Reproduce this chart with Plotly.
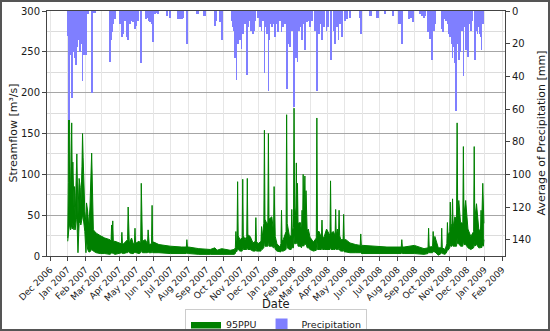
import plotly.graph_objects as go
import pandas as pd

# ---------------- data ----------------
series_start = "2007-01-01"

# 95PPU band: day index since 2007-01-01, upper and lower bounds [m3/s]
ppu_day = [0, 1, 2, 3, 4, 5, 7, 8, 9, 11,
           12, 13, 15, 16, 18, 20, 22, 23, 25, 26,
           27, 29, 30, 32, 33, 35, 37, 39, 42, 45,
           50, 57, 65, 74, 76, 77, 78, 79, 80, 83,
           90, 94, 95, 96, 98, 103, 105, 106, 107, 108,
           112, 115, 117, 118, 119, 120, 125, 128, 129, 130,
           131, 136, 140, 141, 142, 143, 147, 148, 149, 151,
           160, 180, 200, 208, 209, 210, 212, 230, 250, 258,
           262, 270, 285, 292, 294, 295, 296, 297, 298, 299,
           302, 306, 307, 308, 311, 314, 315, 316, 320, 325,
           329, 330, 331, 334, 339, 340, 341, 344, 345, 346,
           349, 351, 352, 353, 358, 361, 362, 363, 364, 367,
           372, 374, 375, 376, 378, 383, 384, 385, 389, 392,
           393, 394, 396, 397, 398, 400, 401, 402, 403, 404,
           408, 410, 411, 412, 413, 414, 416, 417, 418, 420,
           422, 425, 431, 436, 437, 438, 441, 445, 446, 447,
           450, 454, 460, 461, 462, 466, 469, 470, 471, 473,
           475, 476, 477, 479, 483, 484, 485, 488, 495, 505,
           513, 514, 515, 518, 540, 560, 585, 586, 587, 590,
           608, 625, 632, 633, 634, 637, 640, 641, 642, 644,
           650, 655, 656, 657, 662, 665, 666, 667, 670, 671,
           672, 674, 675, 676, 679, 682, 683, 684, 686, 689,
           693, 694, 695, 698, 702, 707, 712, 713, 714, 717,
           721, 724, 725, 726, 728, 729, 730]
ppu_upper = [22, 90, 248, 140, 110, 70, 163, 90, 115, 60,
             85, 45, 100, 125, 50, 95, 84, 60, 110, 150,
             121, 65, 55, 40, 65, 55, 35, 60, 126, 32,
             28, 25, 22, 20, 18, 38, 20, 43, 18, 18,
             16, 15, 29, 15, 15, 18, 20, 60, 18, 16,
             22, 15, 16, 34, 16, 16, 18, 16, 89, 18,
             18, 20, 15, 32, 14, 14, 15, 62, 17, 17,
             14, 12, 11, 11, 20, 11, 11, 9, 8, 10,
             7, 9, 7, 8, 10, 30, 15, 20, 91, 25,
             20, 22, 94, 25, 20, 24, 95, 26, 24, 16,
             18, 47, 18, 15, 18, 36, 22, 40, 154, 45,
             40, 40, 150, 45, 48, 30, 85, 30, 24, 15,
             11, 15, 56, 18, 20, 30, 173, 40, 24, 25,
             57, 30, 35, 181, 60, 50, 114, 50, 89, 40,
             41, 30, 56, 35, 100, 45, 98, 50, 80, 30,
             33, 23, 17, 22, 169, 30, 30, 22, 44, 22,
             24, 33, 25, 92, 28, 30, 25, 57, 25, 33,
             25, 56, 25, 20, 20, 51, 20, 20, 16, 14,
             13, 27, 13, 13, 12, 11, 11, 20, 11, 11,
             13, 9, 10, 34, 12, 11, 12, 30, 14, 24,
             10, 10, 34, 10, 8, 15, 41, 25, 30, 66,
             35, 40, 70, 35, 48, 45, 163, 55, 68, 41,
             40, 134, 50, 68, 33, 24, 30, 134, 45, 64,
             33, 30, 56, 35, 89, 45, 40]
ppu_lower = [18, 25, 35, 40, 35, 32, 38, 33, 40, 32,
             40, 32, 45, 48, 4, 40, 42, 38, 45, 50,
             48, 35, 30, 4, 20, 8, 5, 5, 8, 6,
             4, 3, 3, 2, 3, 5, 3, 5, 3, 2,
             3, 3, 4, 3, 3, 4, 4, 6, 4, 4,
             3, 3, 4, 5, 4, 4, 3, 4, 7, 4,
             4, 4, 4, 5, 4, 4, 4, 6, 4, 4,
             4, 3, 3, 3, 4, 3, 3, 2, 2, 2,
             2, 2, 2, 2, 3, 6, 5, 6, 10, 8,
             6, 6, 12, 8, 8, 8, 12, 8, 8, 6,
             6, 10, 6, 6, 6, 10, 8, 10, 20, 12,
             12, 12, 20, 12, 12, 10, 14, 10, 8, 6,
             5, 5, 8, 6, 6, 8, 20, 10, 8, 8,
             12, 10, 10, 25, 15, 15, 20, 15, 18, 12,
             12, 10, 14, 12, 16, 12, 16, 14, 15, 10,
             10, 8, 6, 7, 20, 8, 8, 8, 10, 8,
             8, 8, 8, 12, 8, 8, 8, 10, 8, 8,
             8, 10, 7, 6, 6, 8, 5, 5, 4, 4,
             4, 5, 3, 3, 3, 3, 3, 4, 3, 3,
             3, 2, 3, 6, 4, 4, 4, 6, 5, 5,
             1, 3, 6, 3, 2, 5, 8, 7, 10, 14,
             12, 12, 15, 12, 12, 12, 22, 15, 15, 12,
             12, 20, 14, 14, 10, 8, 10, 18, 12, 14,
             10, 10, 12, 10, 15, 12, 20]

# Precipitation: day index since 2007-01-01 and depth [mm]
precip_day = [0, 1, 2, 3, 4, 5, 7, 8, 9, 11,
              13, 15, 16, 18, 19, 20, 22, 23, 25, 26,
              27, 29, 30, 32, 34, 36, 42, 45, 48, 74,
              76, 78, 80, 83, 92, 95, 97, 98, 101, 104,
              106, 109, 112, 115, 118, 120, 123, 129, 137, 141,
              143, 144, 147, 149, 153, 156, 159, 174, 180, 194,
              197, 200, 203, 209, 226, 229, 238, 241, 258, 261,
              267, 270, 288, 290, 291, 293, 296, 298, 299, 300,
              302, 305, 307, 308, 311, 314, 317, 320, 322, 325,
              327, 329, 334, 337, 338, 340, 342, 345, 347, 349,
              352, 354, 356, 358, 361, 364, 365, 367, 369, 372,
              375, 378, 381, 384, 387, 390, 393, 397, 401, 403,
              406, 408, 411, 413, 416, 420, 422, 425, 428, 434,
              437, 439, 441, 443, 446, 450, 454, 457, 462, 466,
              469, 472, 475, 478, 481, 487, 490, 495, 513, 514,
              530, 533, 542, 545, 557, 571, 580, 583, 586, 587,
              599, 602, 606, 618, 621, 625, 627, 631, 633, 635,
              639, 641, 642, 644, 656, 658, 662, 664, 666, 668,
              670, 671, 673, 675, 677, 679, 681, 684, 686, 688,
              689, 692, 694, 696, 698, 700, 702, 703, 706, 708,
              710, 714, 717, 719, 721, 723, 725, 726, 728]
precip_mm = [15, 12, 67, 16, 14, 27, 20, 53, 25, 20,
             29, 33, 22, 10, 14, 18, 25, 16, 20, 43,
             18, 27, 25, 27, 2, 2, 50, 1, 1, 31,
             18, 13, 8, 5, 8, 16, 6, 14, 6, 16,
             18, 8, 6, 7, 11, 9, 6, 32, 5, 4,
             6, 7, 8, 19, 2, 1, 2, 3, 4, 5,
             5, 5, 4, 20, 2, 2, 3, 3, 9, 6,
             7, 18, 6, 10, 12, 29, 42, 15, 20, 10,
             18, 23, 12, 14, 8, 39, 10, 6, 12, 14,
             12, 6, 4, 10, 8, 12, 6, 38, 10, 14,
             49, 18, 8, 10, 8, 16, 6, 8, 13, 6,
             13, 10, 8, 48, 20, 22, 12, 59, 29, 31,
             12, 10, 18, 8, 24, 7, 6, 10, 6, 12,
             49, 12, 14, 8, 18, 10, 12, 10, 30, 12,
             20, 10, 18, 8, 16, 6, 5, 4, 4, 14,
             3, 3, 4, 4, 2, 3, 8, 8, 20, 12,
             5, 4, 7, 2, 3, 4, 3, 13, 13, 17,
             30, 6, 12, 8, 11, 13, 5, 6, 8, 14,
             10, 16, 20, 29, 22, 32, 61, 20, 30, 14,
             25, 12, 40, 10, 24, 16, 28, 12, 8, 12,
             6, 30, 12, 14, 10, 14, 16, 24, 8]

# ---------------- figure ----------------
t0 = pd.Timestamp(series_start)
ppu_dates = t0 + pd.to_timedelta(ppu_day, unit="D")
precip_dates = t0 + pd.to_timedelta(precip_day, unit="D")

GREEN = "#008000"
FONT = "DejaVu Sans"
TXT = "#1a1a1a"

fig = go.Figure()
fig.add_trace(go.Scatter(x=ppu_dates, y=ppu_lower, mode="lines",
                         line=dict(color=GREEN, width=1), showlegend=False,
                         hoverinfo="skip"))
fig.add_trace(go.Scatter(x=ppu_dates, y=ppu_upper, mode="lines",
                         fill="tonexty", fillcolor=GREEN,
                         line=dict(color=GREEN, width=1), name="95PPU",
                         legendrank=1))
fig.add_trace(go.Bar(x=precip_dates, y=precip_mm, yaxis="y2",
                     width=1.3 * 86400000,
                     marker=dict(color="#7f7fff", line=dict(width=0)),
                     name="Precipitation", legendrank=2))

# the figure sits 2 px inside the page, framed by the page background
FRAME = 2
PAGE_W, PAGE_H = 550, 331
W, H = PAGE_W - 2 * FRAME, PAGE_H - 2 * FRAME
# plot area in page pixels: left 47, right 505, top 11, bottom 256
ml, mt = 47 - FRAME, 11 - FRAME
mr, mb = PAGE_W - 505 - FRAME, PAGE_H - 256 - FRAME
pw, ph = W - ml - mr, H - mt - mb


def px_x(p):  # page pixel -> paper x
    return (p - FRAME - ml) / pw


def px_y(p):  # page pixel -> paper y
    return (H - mb - (p - FRAME)) / ph


fig.update_layout(
    width=W, height=H,
    margin=dict(l=ml, r=mr, t=mt, b=mb, autoexpand=False),
    paper_bgcolor="white", plot_bgcolor="white",
    font=dict(family=FONT, size=10, color=TXT),
    bargap=0,
    xaxis=dict(type="date", range=["2006-11-25 16:00", "2009-02-06"],
               tick0="2006-12-01", dtick="M1", tickformat="%b %Y",
               tickangle=-45, tickfont=dict(size=9), automargin=False,
               showgrid=True, gridcolor="#e6e6e6", gridwidth=1,
               ticks="outside", ticklen=4, tickcolor="#444",
               showline=True, mirror=True, linecolor="#444", linewidth=1,
               zeroline=False),
    yaxis=dict(range=[0, 300], tick0=0, dtick=50, tickfont=dict(size=10),
               automargin=False,
               showgrid=True, gridcolor="#a6a6a6", gridwidth=1,
               minor=dict(dtick=25, showgrid=True, gridcolor="#dcdcdc", ticks=""),
               ticks="outside", ticklen=4, tickcolor="#444",
               showline=True, mirror=True, linecolor="#444", linewidth=1,
               zeroline=False),
    yaxis2=dict(overlaying="y", side="right", range=[150, 0], tick0=0, dtick=20,
                tickfont=dict(size=10), showgrid=False, automargin=False,
                ticks="outside", ticklen=4, tickcolor="#444",
                showline=False, zeroline=False),
    legend=dict(orientation="h", x=0.5, xanchor="center",
                y=px_y(309), yanchor="top", traceorder="normal",
                bordercolor="#cccccc", borderwidth=1, bgcolor="white",
                font=dict(size=9.5)),
    annotations=[
        dict(text="Streamflow [m³/s]", xref="paper", yref="paper",
             x=px_x(13), y=0.5, textangle=-90, showarrow=False,
             font=dict(size=11), xanchor="center", yanchor="middle"),
        dict(text="Average of Precipitation [mm]", xref="paper", yref="paper",
             x=px_x(541), y=0.5, textangle=-90, showarrow=False,
             font=dict(size=11), xanchor="center", yanchor="middle"),
        dict(text="Date", xref="paper", yref="paper",
             x=0.5, y=px_y(304), showarrow=False,
             font=dict(size=11.5), xanchor="center", yanchor="middle"),
    ],
)

# page without the default body margin; the page background forms the frame
post = ("document.body.style.margin='0';"
        "document.body.style.overflow='hidden';"
        "document.body.style.background='#555555';"
        "var gd=document.getElementById('{plot_id}');"
        "gd.style.margin='%dpx';" % FRAME)

fig.write_html("out.html", post_script=post,
               config={"displayModeBar": False})
